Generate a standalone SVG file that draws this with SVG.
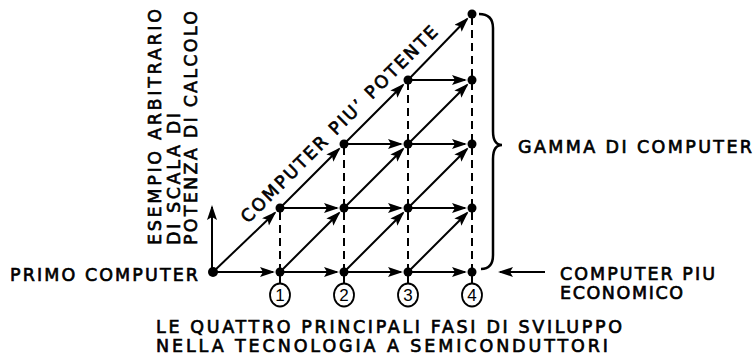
<svg xmlns="http://www.w3.org/2000/svg" width="755" height="356" viewBox="0 0 755 356">
<style>
.t{font-family:"DejaVu Sans","Liberation Sans",Arial,sans-serif;font-size:17.5px;fill:#000;stroke:#000;stroke-width:0.65}
.n{font-family:"Liberation Sans",Arial,sans-serif;font-size:17px;fill:#000;text-anchor:middle}
.a{stroke:#000;stroke-width:2;fill:none;marker-end:url(#ah)}
.d{stroke:#000;stroke-width:2;fill:none;stroke-dasharray:8 5}
.s{stroke:#000;stroke-width:2}
.dot{fill:#000}
.c{fill:#fff;stroke:#000;stroke-width:1.8}
</style>
<defs>
<marker id="ah" markerUnits="userSpaceOnUse" markerWidth="16" markerHeight="11" refX="13" refY="5" orient="auto">
<path d="M0,0 L15,5 L0,10 L3,5 Z" fill="#000"/>
</marker>
</defs>
<rect width="755" height="356" fill="#fff"/>
<g id="connectors">
<line class="d" x1="280" y1="272" x2="280" y2="208"/>
<line class="d" x1="344" y1="272" x2="344" y2="144"/>
<line class="d" x1="408" y1="272" x2="408" y2="80"/>
<line class="d" x1="472" y1="272" x2="472" y2="14"/>
<line class="a" x1="212" y1="272" x2="212" y2="207"/>
<line class="a" x1="213" y1="272" x2="273" y2="272"/>
<line class="a" x1="280" y1="272" x2="337" y2="272"/>
<line class="a" x1="344" y1="272" x2="401" y2="272"/>
<line class="a" x1="408" y1="272" x2="465" y2="272"/>
<line class="a" x1="280" y1="208" x2="337" y2="208"/>
<line class="a" x1="344" y1="208" x2="401" y2="208"/>
<line class="a" x1="408" y1="208" x2="465" y2="208"/>
<line class="a" x1="344" y1="144" x2="401" y2="144"/>
<line class="a" x1="408" y1="144" x2="465" y2="144"/>
<line class="a" x1="408" y1="80" x2="465" y2="80"/>
<line class="a" x1="213" y1="272" x2="274.9" y2="212.8"/>
<line class="a" x1="280" y1="208" x2="339.05" y2="148.95"/>
<line class="a" x1="344" y1="144" x2="403.05" y2="84.95"/>
<line class="a" x1="408" y1="80" x2="467.1" y2="19.0"/>
<line class="a" x1="280" y1="272" x2="339.05" y2="212.95"/>
<line class="a" x1="344" y1="208" x2="403.05" y2="148.95"/>
<line class="a" x1="408" y1="144" x2="467.05" y2="84.95"/>
<line class="a" x1="344" y1="272" x2="403.05" y2="212.95"/>
<line class="a" x1="408" y1="208" x2="467.05" y2="148.95"/>
<line class="a" x1="408" y1="272" x2="467.05" y2="212.95"/>
<line class="a" x1="545" y1="272" x2="500" y2="272"/>
<line class="s" x1="280" y1="272" x2="280" y2="284"/>
<line class="s" x1="344" y1="272" x2="344" y2="284"/>
<line class="s" x1="408" y1="272" x2="408" y2="284"/>
<line class="s" x1="472" y1="272" x2="472" y2="284"/>
</g>
<g id="brace">
<path d="M479,14 Q493,14 493,28 L493,131 Q493,145 502,145 Q493,145 493,159 L493,255 Q493,269 481,269" fill="none" stroke="#000" stroke-width="2.5"/>
</g>
<g id="origin"><circle class="dot" cx="213" cy="272" r="5"/></g>
<g id="n-1-0"><circle class="dot" cx="280" cy="272" r="4.5"/></g>
<g id="n-2-0"><circle class="dot" cx="344" cy="272" r="4.5"/></g>
<g id="n-3-0"><circle class="dot" cx="408" cy="272" r="4.5"/></g>
<g id="n-4-0"><circle class="dot" cx="472" cy="272" r="4.5"/></g>
<g id="n-1-1"><circle class="dot" cx="280" cy="208" r="4.5"/></g>
<g id="n-2-1"><circle class="dot" cx="344" cy="208" r="4.5"/></g>
<g id="n-3-1"><circle class="dot" cx="408" cy="208" r="4.5"/></g>
<g id="n-4-1"><circle class="dot" cx="472" cy="208" r="4.5"/></g>
<g id="n-2-2"><circle class="dot" cx="344" cy="144" r="4.5"/></g>
<g id="n-3-2"><circle class="dot" cx="408" cy="144" r="4.5"/></g>
<g id="n-4-2"><circle class="dot" cx="472" cy="144" r="4.5"/></g>
<g id="n-3-3"><circle class="dot" cx="408" cy="80" r="4.5"/></g>
<g id="n-4-3"><circle class="dot" cx="472" cy="80" r="4.5"/></g>
<g id="n-4-4"><circle class="dot" cx="472" cy="14" r="4.5"/></g>
<g id="phase1"><ellipse class="c" cx="280" cy="295" rx="10" ry="11.5"/><text class="n" x="280" y="301">1</text></g>
<g id="phase2"><ellipse class="c" cx="344" cy="295" rx="10" ry="11.5"/><text class="n" x="344" y="301">2</text></g>
<g id="phase3"><ellipse class="c" cx="408" cy="295" rx="10" ry="11.5"/><text class="n" x="408" y="301">3</text></g>
<g id="phase4"><ellipse class="c" cx="472" cy="295" rx="10" ry="11.5"/><text class="n" x="472" y="301">4</text></g>
<g id="labels">
<text class="t" x="10" y="281" textLength="188" lengthAdjust="spacing">PRIMO COMPUTER</text>
<text class="t" x="518" y="153" textLength="234" lengthAdjust="spacing">GAMMA DI COMPUTER</text>
<text class="t" x="560" y="280" textLength="155" lengthAdjust="spacing">COMPUTER PIU</text>
<text class="t" x="560" y="298.5" textLength="123" lengthAdjust="spacing">ECONOMICO</text>
<text class="t" transform="translate(161,245) rotate(-90)" textLength="236" lengthAdjust="spacing">ESEMPIO ARBITRARIO</text>
<text class="t" transform="translate(180,245) rotate(-90)" textLength="132" lengthAdjust="spacing">DI SCALA DI</text>
<text class="t" transform="translate(197,245) rotate(-90)" textLength="234" lengthAdjust="spacing">POTENZA DI CALCOLO</text>
<text class="t" transform="translate(248,224) rotate(-45)" textLength="270" lengthAdjust="spacing">COMPUTER PIU’ POTENTE</text>
<text class="t" x="156" y="333" textLength="466" lengthAdjust="spacing">LE QUATTRO PRINCIPALI FASI DI SVILUPPO</text>
<text class="t" x="156" y="352" textLength="452" lengthAdjust="spacing">NELLA TECNOLOGIA A SEMICONDUTTORI</text>
</g>
</svg>
